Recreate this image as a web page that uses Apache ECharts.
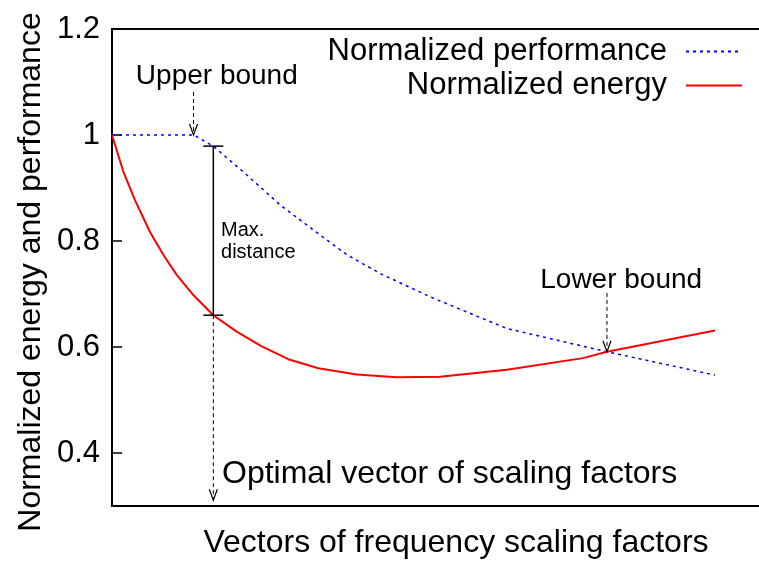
<!DOCTYPE html>
<html>
<head>
<meta charset="utf-8">
<script src="https://cdn.jsdelivr.net/npm/echarts@6/dist/echarts.min.js"></script>
<style>html,body{margin:0;padding:0;background:#fff;}#c{width:759px;height:565px;}</style>
</head>
<body>
<div id="c"></div>
<script>
// ---- data ----
const seriesNames = ['Normalized performance', 'Normalized energy'];
const xPerf  = [0, 12.6, 15.66, 20.8, 26.0, 31.1, 36.3, 41.4, 49.1, 61.0, 76.5, 93.2];
const perf   = [1.0, 1.0, 0.979, 0.925, 0.868, 0.821, 0.774, 0.739, 0.695, 0.635, 0.591, 0.547];
const xEnergy = [0, 1.75, 3.55, 5.87, 7.93, 10.0, 12.57, 15.66, 19.27, 23.14, 27.25, 31.9, 37.8, 44.0, 50.7, 61.0, 72.8, 76.5, 93.2];
const energy  = [1.0, 0.931, 0.877, 0.817, 0.774, 0.736, 0.698, 0.660, 0.629, 0.601, 0.577, 0.560, 0.548, 0.543, 0.544, 0.557, 0.579, 0.591, 0.631];
const yTicks = [0.4, 0.6, 0.8, 1.0, 1.2];
// annotations: [x, yFrom, yTo, kind]  kind 0 = dashed arrow, 1 = solid bar with caps
const annX    = [12.6, 15.66, 15.66, 76.5];
const annFrom = [1.081, 0.979, 0.660, 0.702];
const annTo   = [1.0, 0.660, 0.311, 0.591];
const annKind = [0, 1, 0, 0];
// text labels
const labelText = ['Upper bound', 'Lower bound', 'Optimal vector of scaling factors', 'Max.', 'distance'];
const labelX    = [16.2, 78.7, 17.0, 16.85, 16.85];
const labelY    = [1.111, 0.725, 0.360, 0.819, 0.779];
const labelSize = [28, 28, 32, 20, 20];
const labelAlign = ['center', 'center', 'left', 'left', 'left'];

const FONT = '"Liberation Sans", Arial, Helvetica, sans-serif';
const chart = echarts.init(document.getElementById('c'), null, {renderer: 'canvas'});

const annData = annX.map((x, i) => [x, annFrom[i], annTo[i], annKind[i]]);
const labelData = labelX.map((x, i) => [x, labelY[i], i]);

const legendBase = {
  right: 16, align: 'right', orient: 'vertical', padding: 0,
  itemWidth: 56, itemHeight: 14, selectedMode: false,
  itemStyle: {opacity: 0},
  textStyle: {fontSize: 31, fontFamily: FONT, color: '#000', padding: [0, 14, 0, 0]}
};

const option = {
  animation: false,
  backgroundColor: '#fff',
  grid: {left: 112, right: 0, top: 29, bottom: 59},
  legend: [
    Object.assign({}, legendBase, {data: [seriesNames[0]], top: 36}),
    Object.assign({}, legendBase, {data: [seriesNames[1]], top: 70})
  ],
  xAxis: [
    {type: 'value', min: 0, max: 100, position: 'bottom',
     axisLine: {show: true, lineStyle: {color: '#000', width: 2}},
     axisTick: {show: false}, axisLabel: {show: false}, splitLine: {show: false}},
    {type: 'value', min: 0, max: 100, position: 'top',
     axisLine: {show: true, lineStyle: {color: '#000', width: 2}},
     axisTick: {show: false}, axisLabel: {show: false}, splitLine: {show: false}}
  ],
  yAxis: {
    type: 'value', min: 0.3, max: 1.2,
    axisLine: {show: true, onZero: false, lineStyle: {color: '#000', width: 2}},
    axisTick: {show: true, inside: true, length: 10, customValues: yTicks, lineStyle: {color: '#000', width: 1.5}},
    axisLabel: {show: true, customValues: yTicks, margin: 12, fontSize: 31, fontFamily: FONT, color: '#000',
      formatter: v => String(+(+v).toFixed(1))},
    splitLine: {show: false}
  },
  graphic: [
    {type: 'text', x: 31, y: 272, rotation: Math.PI / 2,
     style: {text: 'Normalized energy and performance', fontSize: 32, fontFamily: FONT, fill: '#000',
       align: 'center', verticalAlign: 'middle'}},
    {type: 'text', x: 456, y: 543,
     style: {text: 'Vectors of frequency scaling factors', fontSize: 32, fontFamily: FONT, fill: '#000',
       align: 'center', verticalAlign: 'middle'}}
  ],
  series: [
    {name: seriesNames[0], type: 'line', symbol: 'none', showSymbol: false,
     data: xPerf.map((x, i) => [x, perf[i]]),
     lineStyle: {color: '#0000ff', width: 1.5, type: [3, 4]}, itemStyle: {color: '#0000ff'}, z: 3},
    {name: seriesNames[1], type: 'line', symbol: 'none', showSymbol: false,
     data: xEnergy.map((x, i) => [x, energy[i]]),
     lineStyle: {color: '#ff0000', width: 2}, itemStyle: {color: '#ff0000'}, z: 3},
    {type: 'custom', silent: true, z: 4, data: annData,
     renderItem: (params, api) => {
       const x = api.value(0), y1 = api.value(1), y2 = api.value(2), kind = api.value(3);
       const p1 = api.coord([x, y1]), p2 = api.coord([x, y2]);
       const children = [];
       if (kind === 1) {
         const st = {stroke: '#000', lineWidth: 1.5};
         children.push({type: 'line', shape: {x1: p1[0], y1: p1[1], x2: p2[0], y2: p2[1]}, style: st});
         children.push({type: 'line', shape: {x1: p1[0] - 10, y1: p1[1], x2: p1[0] + 10, y2: p1[1]}, style: st});
         children.push({type: 'line', shape: {x1: p2[0] - 10, y1: p2[1], x2: p2[0] + 10, y2: p2[1]}, style: st});
       } else {
         children.push({type: 'line', shape: {x1: p1[0], y1: p1[1], x2: p2[0], y2: p2[1]},
           style: {stroke: '#000', lineWidth: 1, lineDash: [4, 3]}});
         children.push({type: 'polyline', shape: {points: [[p2[0] - 4, p2[1] - 11], [p2[0], p2[1]], [p2[0] + 4, p2[1] - 11]]},
           style: {stroke: '#000', lineWidth: 1.2, fill: null}});
       }
       return {type: 'group', children};
     }},
    {type: 'custom', silent: true, z: 5, data: labelData,
     renderItem: (params, api) => {
       const i = api.value(2);
       const p = api.coord([api.value(0), api.value(1)]);
       return {type: 'text', x: p[0], y: p[1],
         style: {text: labelText[i], fontSize: labelSize[i], fontFamily: FONT, fill: '#000',
           align: labelAlign[i], verticalAlign: 'middle'}};
     }}
  ]
};
chart.setOption(option);
</script>
</body>
</html>
